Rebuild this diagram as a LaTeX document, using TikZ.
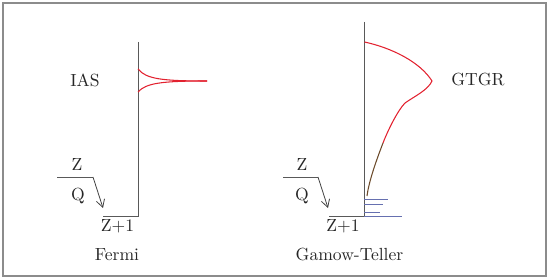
\documentclass[tikz,border=0pt]{standalone}
\usepackage{xcolor}
\usepackage{tikz}
\usetikzlibrary{arrows.meta}
\definecolor{peakred}{HTML}{E2212F}
\definecolor{tailbrown}{HTML}{6B4A2A}
\definecolor{lvlblue}{HTML}{6670B0}

\begin{document}
\begin{tikzpicture}[
  x=0.02cm, y=-0.02cm,
  font=\fontsize{10}{11}\selectfont,
  >={Straight Barb[length=1.5mm, width=1.7mm]},
  ax/.style={draw=black!65, line width=0.5pt},
  peak/.style={draw=peakred, line width=0.6pt},
  lvl/.style={draw=lvlblue, line width=0.5pt},
  lab/.style={inner sep=0pt, text=black!85},
  ar/.style={->, black!75, line width=0.45pt}
]
\useasboundingbox (0,0) rectangle (550,279);
% 틀
\draw[black!45, line width=0.6pt] (3,3) rectangle (546,276);
% Fermi
\coordinate (ftop) at (138,42);
\coordinate (fbot) at (138,216);
\coordinate (fend) at (103,216);
\coordinate (fz) at (57,177);
\coordinate (fbend) at (93,177);
\coordinate (farr) at (103,208);
\coordinate (fup) at (138,69);
\coordinate (fdn) at (138,92);
\coordinate (ftip) at (207,81);
\draw[ax] (ftop) -- (fbot) -- (fend);
\draw[ax] (fz) -- (fbend);
\draw[ar] (fbend) -- (farr);
\draw[peak] (fup) .. controls (146,79) and (162,81) .. (ftip);
\draw[peak] (fdn) .. controls (146,83) and (162,81) .. (ftip);
\node[lab] (ias) at (85,80) {IAS};
\node[lab] (fZ) at (77,165) {Z};
\node[lab] (fQ) at (78,196) {Q};
\node[lab] (fZ1) at (117.5,226.5) {Z+1};
\node[lab] (fermi) at (117,255) {Fermi};
% Gamow-Teller
\coordinate (gtop) at (364,22);
\coordinate (gbot) at (364,216);
\coordinate (gend) at (329,216);
\coordinate (gright) at (402,216);
\coordinate (gz) at (283,177);
\coordinate (gbend) at (318,177);
\coordinate (garr) at (328,208);
\draw[ax] (gtop) -- (gbot) -- (gend);
\draw[lvl] (gbot) -- (gright);
\draw[ax] (gz) -- (gbend);
\draw[ar] (gbend) -- (garr);
% 준위
\foreach \y/\len in {199/388, 204/383, 212/380}
  \draw[lvl] (364,\y) -- (\len,\y);
% 공명
\coordinate (gstart) at (364.5,42);
\coordinate (gpeak) at (432,81);
\coordinate (gknee) at (405,103);
\coordinate (gmid) at (383,143);
\coordinate (gfoot) at (367,196);
\draw[peak] (gstart) .. controls (392,48) and (420,62) .. (gpeak)
  .. controls (428,90) and (415,96) .. (gknee)
  .. controls (398,110) and (388,130) .. (gmid);
\draw[tailbrown, line width=0.6pt] (gmid) .. controls (378,156) and (369,180) .. (gfoot);
\node[lab] (gtgr) at (478,80) {GTGR};
\node[lab] (gZ) at (302,165) {Z};
\node[lab] (gQ) at (302,196) {Q};
\node[lab] (gZ1) at (343,226.5) {Z+1};
\node[lab] (gt) at (349.5,255) {Gamow-Teller};
\end{tikzpicture}
\end{document}
